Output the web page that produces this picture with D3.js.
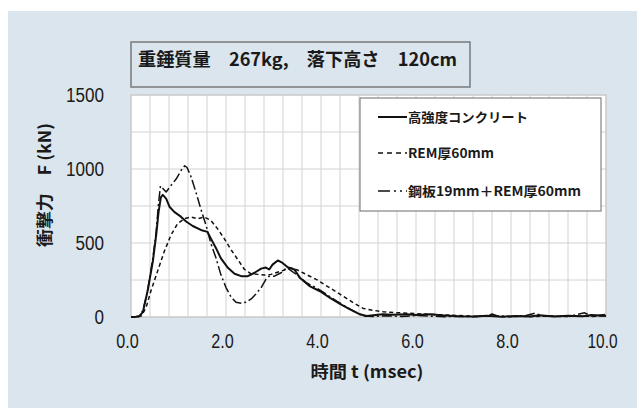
<!DOCTYPE html>
<html>
<head>
<meta charset="utf-8">
<script src="https://cdn.jsdelivr.net/npm/d3@7"></script>
<style>
  body { margin: 0; background: #fff; }
  text { font-family: "Noto Sans CJK JP", "Noto Sans", sans-serif; fill: #1a1a1a; }
</style>
</head>
<body>
<script>
// 高強度コンクリート [t (msec), F (kN)]
var concrete = [
  [0,0],[0.1,2],[0.18,7],[0.25,33],[0.35,177],[0.46,376],[0.53,553],[0.58,708],[0.63,810],
  [0.67,825],[0.74,800],[0.81,745],[0.91,710],[1.05,678],[1.16,645],[1.30,615],[1.47,588],
  [1.61,575],[1.68,531],[1.79,465],[1.89,398],[2.04,332],[2.18,292],[2.32,276],[2.46,276],
  [2.60,299],[2.74,327],[2.84,334],[2.91,321],[2.98,354],[3.09,382],[3.19,365],[3.30,336],
  [3.44,321],[3.56,263],[3.77,207],[3.98,174],[4.19,129],[4.40,89],[4.61,51],[4.82,18],
  [4.96,7],[5.1,12],[5.3,18],[5.5,15],[5.8,18],[6.0,14],[6.3,18],[6.6,10],[6.9,5],[7.2,3],
  [7.5,8],[7.8,2],[8.1,6],[8.4,3],[8.6,12],[8.9,4],[9.2,8],[9.5,5],[9.7,14],[10,6]
];
// REM厚60mm
var rem60 = [
  [0,0],[0.15,2],[0.22,8],[0.32,66],[0.42,177],[0.56,310],[0.70,442],[0.84,553],[0.98,630],
  [1.12,664],[1.26,675],[1.40,664],[1.54,675],[1.68,653],[1.82,597],[1.96,531],[2.11,453],
  [2.25,387],[2.39,321],[2.53,292],[2.67,288],[2.81,283],[2.95,288],[3.16,310],[3.37,332],
  [3.50,318],[3.63,297],[3.91,252],[4.19,196],[4.47,140],[4.68,96],[4.89,58],[5.10,45],
  [5.31,36],[5.59,29],[5.87,25],[6.29,18],[6.7,13],[7.0,8],[7.3,4],[7.6,6],[7.9,2],[8.2,5],
  [8.5,3],[8.8,8],[9.1,3],[9.4,6],[9.7,4],[10,8]
];
// 鋼板19mm＋REM厚60mm
var steelRem = [
  [0,0],[0.1,1],[0.17,3],[0.25,44],[0.35,177],[0.46,398],[0.53,575],[0.58,770],[0.62,885],
  [0.67,868],[0.74,845],[0.84,888],[0.95,932],[1.05,988],[1.13,1022],[1.18,1010],[1.26,951],
  [1.37,840],[1.47,730],[1.58,619],[1.68,498],[1.79,398],[1.89,288],[2.0,199],[2.11,133],
  [2.21,100],[2.32,93],[2.42,100],[2.53,122],[2.63,155],[2.74,199],[2.84,254],[2.91,276],
  [3.02,276],[3.16,299],[3.28,334],[3.49,285],[3.70,230],[3.91,196],[4.12,152],[4.33,107],
  [4.54,67],[4.75,29],[4.89,7],[5.1,3],[5.4,8],[5.7,4],[6.0,10],[6.3,6],[6.6,2],[6.9,4],
  [7.2,2],[7.5,6],[7.6,20],[7.7,8],[8.0,3],[8.3,9],[8.5,25],[8.7,5],[9.0,4],[9.3,10],
  [9.55,28],[9.7,6],[10,18]
];

var xTicks = [0, 2, 4, 6, 8, 10];
var yTicks = [0, 500, 1000, 1500];
var title = "重錘質量　267kg,　落下高さ　120cm";
var xTitle = "時間 t (msec)";
var yTitle = "衝撃力　F (kN)";
var legendNames = ["高強度コンクリート", "REM厚60mm", "鋼板19mm＋REM厚60mm"];

var width = 637, height = 408;
var svg = d3.select("body").append("svg")
    .attr("width", width)
    .attr("height", height);

svg.append("rect")
    .attr("x", 8).attr("y", 11)
    .attr("width", width - 8).attr("height", height - 11)
    .attr("fill", "#dbe5ed");

var x = d3.scaleLinear().domain([0, 10]).range([131, 606]);
var y = d3.scaleLinear().domain([0, 1500]).range([317, 95]);

// plot area
svg.append("rect")
    .attr("x", x(0)).attr("y", y(1500))
    .attr("width", x(10) - x(0)).attr("height", y(0) - y(1500))
    .attr("fill", "#fff");

svg.append("g").selectAll("line")
    .data(d3.range(0, 26).map(function(i) { return i * 0.4; }))
    .enter().append("line")
    .attr("x1", function(d) { return x(d); })
    .attr("x2", function(d) { return x(d); })
    .attr("y1", y(0)).attr("y2", y(1500))
    .attr("stroke", "#d2d2d2").attr("stroke-width", 1);

svg.append("g").selectAll("line")
    .data(d3.range(0, 7).map(function(i) { return i * 250; }))
    .enter().append("line")
    .attr("x1", x(0)).attr("x2", x(10))
    .attr("y1", function(d) { return y(d); })
    .attr("y2", function(d) { return y(d); })
    .attr("stroke", "#d2d2d2").attr("stroke-width", 1);

svg.append("rect")
    .attr("x", x(0)).attr("y", y(1500))
    .attr("width", x(10) - x(0)).attr("height", y(0) - y(1500))
    .attr("fill", "none").attr("stroke", "#c4c4c4");

// axes
var xAxis = svg.append("g")
    .attr("transform", "translate(0," + y(0) + ")")
    .call(d3.axisBottom(x).tickValues(xTicks).tickSize(0).tickPadding(17)
        .tickFormat(d3.format(".1f")));
xAxis.select(".domain").remove();
xAxis.selectAll("text")
    .attr("dx", -4)
    .style("font-family", "'Liberation Sans', sans-serif")
    .style("font-size", "20px")
    .style("fill", "#1a1a1a")
    .attr("textLength", function(d) { return d3.format(".1f")(d).length * 7.5; })
    .attr("lengthAdjust", "spacingAndGlyphs");

var yAxis = svg.append("g")
    .attr("transform", "translate(" + x(0) + ",0)")
    .call(d3.axisLeft(y).tickValues(yTicks).tickSize(0).tickPadding(27)
        .tickFormat(d3.format("d")));
yAxis.select(".domain").remove();
yAxis.selectAll("text")
    .style("font-family", "'Liberation Sans', sans-serif")
    .style("font-size", "20px")
    .style("fill", "#1a1a1a")
    .attr("textLength", function(d) { return String(d).length * 9.5; })
    .attr("lengthAdjust", "spacingAndGlyphs");

// curves
var line = d3.line()
    .x(function(d) { return x(d[0]); })
    .y(function(d) { return y(d[1]); });

var series = [
  { data: rem60, dash: "4,3", w: 1.5 },
  { data: steelRem, dash: "10,3,2,3", w: 1.5 },
  { data: concrete, dash: null, w: 2 }
];
svg.append("g").selectAll("path")
    .data(series)
    .enter().append("path")
    .attr("d", function(d) { return line(d.data); })
    .attr("fill", "none")
    .attr("stroke", "#111")
    .attr("stroke-width", function(d) { return d.w; })
    .attr("stroke-dasharray", function(d) { return d.dash; })
    .attr("stroke-linejoin", "round");

// title box
svg.append("rect")
    .attr("x", 131).attr("y", 42).attr("width", 339).attr("height", 45)
    .attr("fill", "none").attr("stroke", "#7a7a7a").attr("stroke-width", 1.5);
svg.append("text")
    .attr("x", 138).attr("y", 66)
    .attr("font-size", 18).attr("font-weight", "bold")
    .attr("textLength", 319).attr("lengthAdjust", "spacingAndGlyphs")
    .text(title);

// axis titles
svg.append("text")
    .attr("x", 367).attr("y", 378)
    .attr("text-anchor", "middle")
    .attr("font-size", 17).attr("font-weight", "bold")
    .attr("textLength", 113).attr("lengthAdjust", "spacingAndGlyphs")
    .text(xTitle);
svg.append("text")
    .attr("transform", "translate(51,185) rotate(-90)")
    .attr("text-anchor", "middle")
    .attr("font-size", 17).attr("font-weight", "bold")
    .attr("textLength", 124).attr("lengthAdjust", "spacingAndGlyphs")
    .text(yTitle);

// legend
svg.append("rect")
    .attr("x", 360).attr("y", 98).attr("width", 241).attr("height", 113)
    .attr("fill", "#fff").attr("stroke", "#6a6a6a").attr("stroke-width", 1);

var legendY = [117, 153, 191];
var legendDash = [null, "5,4", "12,4,2,4,2,4,3"];
var legendW = [120, 86, 173];
var lg = svg.append("g").selectAll("g")
    .data(legendNames)
    .enter().append("g");
lg.append("line")
    .attr("x1", 378).attr("x2", 407)
    .attr("y1", function(d, i) { return legendY[i]; })
    .attr("y2", function(d, i) { return legendY[i]; })
    .attr("stroke", "#111")
    .attr("stroke-width", function(d, i) { return i == 0 ? 2 : 1.5; })
    .attr("stroke-dasharray", function(d, i) { return legendDash[i]; });
lg.append("text")
    .attr("x", 408)
    .attr("y", function(d, i) { return legendY[i] + 5; })
    .attr("font-size", 13).attr("font-weight", "bold")
    .attr("textLength", function(d, i) { return legendW[i]; })
    .attr("lengthAdjust", "spacingAndGlyphs")
    .text(function(d) { return d; });
</script>
</body>
</html>
